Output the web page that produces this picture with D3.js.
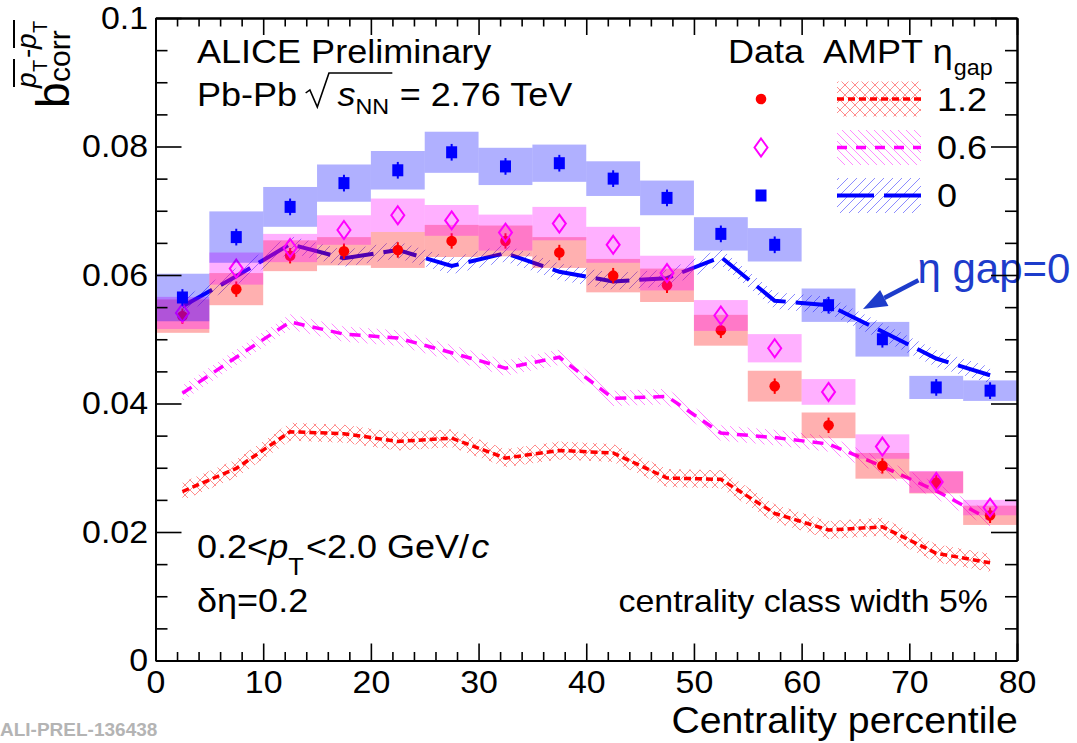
<!DOCTYPE html>
<html>
<head>
<meta charset="utf-8">
<script src="https://cdn.jsdelivr.net/npm/d3@7"></script>
<style>
  body { margin: 0; background: #fff; }
  svg { display: block; background: #fff; }
  text { font-family: "Liberation Sans", Arial, Helvetica, sans-serif; }
</style>
</head>
<body>
<svg id="chart" width="1077" height="743"></svg>
<script>
// ---- data: centrality bins (5% wide), b_corr values ----
const centrality = [2.5, 7.5, 12.5, 17.5, 22.5, 27.5, 32.5, 37.5, 42.5, 47.5, 52.5, 57.5, 62.5, 67.5, 72.5, 77.5];
const binHalfWidth = 2.5;

// Data, eta gap 1.2 (red circles)
const data12     = [0.0536, 0.0578, 0.0630, 0.0637, 0.0639, 0.0653, 0.0653, 0.0635, 0.0599, 0.0584, 0.0514, 0.0427, 0.0366, 0.0303, 0.0277, 0.0226];
const data12Sys  = [0.0026, 0.0025, 0.0024, 0.0022, 0.0028, 0.0025, 0.0024, 0.0024, 0.0026, 0.0026, 0.0024, 0.0024, 0.0020, 0.0020, 0.0017, 0.0015];
const data12Stat = [0.0012, 0.0012, 0.0012, 0.0012, 0.0012, 0.0012, 0.0012, 0.0012, 0.0012, 0.0012, 0.0012, 0.0012, 0.0012, 0.0012, 0.0012, 0.0012];
// Data, eta gap 0.6 (open diamonds)
const data06     = [0.0541, 0.0610, 0.0642, 0.0670, 0.0693, 0.0685, 0.0666, 0.0680, 0.0647, 0.0603, 0.0537, 0.0486, 0.0418, 0.0333, 0.0278, 0.0238];
const data06Sys  = [0.0025, 0.0025, 0.0022, 0.0023, 0.0026, 0.0024, 0.0028, 0.0026, 0.0028, 0.0027, 0.0024, 0.0022, 0.0020, 0.0019, 0.0017, 0.0012];
// Data, eta gap 0 (blue squares)
const data00     = [0.0565, 0.0659, 0.0706, 0.0743, 0.0763, 0.0791, 0.0769, 0.0774, 0.0750, 0.0720, 0.0664, 0.0647, 0.0553, 0.0500, 0.0425, 0.0420];
const data00Sys  = [0.0037, 0.0040, 0.0031, 0.0029, 0.0030, 0.0032, 0.0029, 0.0029, 0.0027, 0.0027, 0.0026, 0.0026, 0.0026, 0.0027, 0.0018, 0.0016];
const data00Stat = [0.0013, 0.0013, 0.0013, 0.0013, 0.0013, 0.0013, 0.0013, 0.0013, 0.0013, 0.0013, 0.0013, 0.0013, 0.0013, 0.0013, 0.0013, 0.0013];

// AMPT model curves with their uncertainty bands
const ampt12    = [0.0263, 0.0299, 0.0356, 0.0353, 0.0341, 0.0346, 0.0315, 0.0327, 0.0323, 0.0284, 0.0282, 0.0229, 0.0203, 0.0208, 0.0167, 0.0152];
const ampt12Err = [0.0014, 0.0014, 0.0014, 0.0014, 0.0014, 0.0014, 0.0014, 0.0014, 0.0014, 0.0014, 0.0014, 0.0014, 0.0014, 0.0014, 0.0014, 0.0014];
const ampt06    = [0.0416, 0.0472, 0.0527, 0.0508, 0.0502, 0.0479, 0.0455, 0.0472, 0.0408, 0.0411, 0.0354, 0.0347, 0.0337, 0.0302, 0.0264, 0.0219];
const ampt06Err = [0.0012, 0.0012, 0.0012, 0.0012, 0.0012, 0.0012, 0.0012, 0.0012, 0.0012, 0.0012, 0.0012, 0.0012, 0.0012, 0.0012, 0.0012, 0.0012];
const ampt00    = [0.0551, 0.0598, 0.0648, 0.0626, 0.0639, 0.0614, 0.0634, 0.0605, 0.0590, 0.0595, 0.0628, 0.0560, 0.0553, 0.0512, 0.0470, 0.0444];
const ampt00Err = [0.0013, 0.0013, 0.0013, 0.0013, 0.0013, 0.0013, 0.0013, 0.0013, 0.0013, 0.0013, 0.0013, 0.0013, 0.0013, 0.0013, 0.0013, 0.0013];

// axis ticks
const xMajorTicks = [0, 10, 20, 30, 40, 50, 60, 70, 80];
const xMinorTicks = [2, 4, 6, 8, 12, 14, 16, 18, 22, 24, 26, 28, 32, 34, 36, 38, 42, 44, 46, 48, 52, 54, 56, 58, 62, 64, 66, 68, 72, 74, 76, 78];
const yMajorTicks = [0, 0.02, 0.04, 0.06, 0.08, 0.1];
const yTickLabels = ["0", "0.02", "0.04", "0.06", "0.08", "0.1"];
const yMinorTicks = [0.005, 0.01, 0.015, 0.025, 0.03, 0.035, 0.045, 0.05, 0.055, 0.065, 0.07, 0.075, 0.085, 0.09, 0.095];

// annotation pointing at the eta gap = 0 model curve (data units)
const noteText = "η gap=0";
const noteAnchor = [70.75, 0.0588];
const arrowTail = [70.85, 0.0592];
const arrowTip = [65.7, 0.0547];

// ---- layout ----
const svg = d3.select("#chart");
const x = d3.scaleLinear().domain([0, 80]).range([155.5, 1017]);
const y = d3.scaleLinear().domain([0, 0.1]).range([660.5, 18]);
const SX = 1.06; // horizontal stretch of the lettering

const defs = svg.append("defs");
function hatch(id, size, d, color, op, w) {
  const p = defs.append("pattern").attr("id", id).attr("patternUnits", "userSpaceOnUse")
    .attr("width", size).attr("height", size);
  p.append("path").attr("d", d).attr("stroke", color).attr("stroke-opacity", op)
    .attr("stroke-width", w).attr("fill", "none");
}
hatch("hatchRed", 10, "M0,0 L10,10 M-1,9 L1,11 M9,-1 L11,1 M0,10 L10,0 M-1,1 L1,-1 M9,11 L11,9", "#ff0000", 0.5, 0.9);
hatch("hatchMag", 8, "M0,0 L8,8 M-2,6 L2,10 M6,-2 L10,2", "#ff00ff", 0.5, 0.9);
hatch("hatchBlue", 9, "M0,9 L9,0 M-2,2 L2,-2 M7,11 L11,7", "#8c8cff", 1, 1);

// rich text: sequence of pieces laid out left to right
function richText(parent, x0, y0, pieces, opts = {}) {
  const sx = opts.sx ?? SX;
  const g = parent.append("g");
  let cx = 0;
  const pos = [];
  pieces.forEach(p => {
    cx += p.gap || 0;
    const t = g.append("text").attr("x", cx).attr("y", p.dy || 0)
      .attr("font-size", p.size).attr("fill", p.fill || opts.fill || "#000").text(p.t);
    if (p.italic) t.attr("font-style", "italic");
    if (p.family || opts.family) t.attr("font-family", p.family || opts.family);
    const w = t.node().getComputedTextLength();
    pos.push({ x0: cx, x1: cx + w });
    cx += w;
  });
  const tx = opts.anchor === "end" ? x0 - cx * sx : x0;
  g.attr("transform", `translate(${tx},${y0}) scale(${sx},1)`);
  return { g, pos, width: cx };
}

// ---- AMPT bands and curves ----
function amptCurve(vals, errs, pattern, color, dash, width) {
  const pts = centrality.map((c, i) => ({ c, v: vals[i], e: errs[i] }));
  svg.append("path").datum(pts)
    .attr("d", d3.area().x(d => x(d.c)).y0(d => y(d.v - d.e)).y1(d => y(d.v + d.e)))
    .attr("fill", `url(#${pattern})`);
  svg.append("path").datum(pts)
    .attr("d", d3.line().x(d => x(d.c)).y(d => y(d.v)))
    .attr("fill", "none").attr("stroke", color).attr("stroke-width", width)
    .attr("stroke-dasharray", dash);
}
amptCurve(ampt12, ampt12Err, "hatchRed", "#ff0000", "7,4", 3.5);
amptCurve(ampt06, ampt06Err, "hatchMag", "#ff00ff", "11,8", 3.5);
amptCurve(ampt00, ampt00Err, "hatchBlue", "#0000ff", "34,10", 4);

// ---- data: systematic boxes, statistical bars, markers ----
const diamondPath = "M0,-9 L6.5,0 L0,9 L-6.5,0 Z";
function dataSeries(vals, sys, stat, color, marker) {
  const pts = centrality.map((c, i) => ({ c, v: vals[i], s: sys[i], e: stat ? stat[i] : 0 }));
  svg.append("g").selectAll("rect").data(pts).join("rect")
    .attr("x", d => x(d.c - binHalfWidth))
    .attr("width", d => x(d.c + binHalfWidth) - x(d.c - binHalfWidth))
    .attr("y", d => y(d.v + d.s))
    .attr("height", d => y(d.v - d.s) - y(d.v + d.s))
    .attr("fill", color).attr("fill-opacity", 0.31);
  if (stat) {
    svg.append("g").selectAll("line").data(pts).join("line")
      .attr("x1", d => x(d.c)).attr("x2", d => x(d.c))
      .attr("y1", d => y(d.v - d.e)).attr("y2", d => y(d.v + d.e))
      .attr("stroke", color).attr("stroke-width", 2);
  }
  const g = svg.append("g");
  if (marker === "circle") {
    g.selectAll("circle").data(pts).join("circle")
      .attr("cx", d => x(d.c)).attr("cy", d => y(d.v)).attr("r", 5.3).attr("fill", color);
  } else if (marker === "diamond") {
    g.selectAll("path").data(pts).join("path")
      .attr("transform", d => `translate(${x(d.c)},${y(d.v)})`)
      .attr("d", diamondPath).attr("fill", "none").attr("stroke", color).attr("stroke-width", 2);
  } else {
    g.selectAll("rect").data(pts).join("rect")
      .attr("x", d => x(d.c) - 5.5).attr("y", d => y(d.v) - 6)
      .attr("width", 11).attr("height", 12).attr("fill", color);
  }
}
dataSeries(data12, data12Sys, data12Stat, "#ff0000", "circle");
dataSeries(data06, data06Sys, null, "#ff00ff", "diamond");
dataSeries(data00, data00Sys, data00Stat, "#0000ff", "square");

// ---- annotation ----
const noteBlue = "#1d3ccb";
richText(svg, x(noteAnchor[0]), y(noteAnchor[1]), [{ t: noteText, size: 42 }],
  { family: "Lato, 'Open Sans', sans-serif", fill: noteBlue, sx: 1.0 });
{
  const tx = x(arrowTail[0]), ty = y(arrowTail[1]);
  const hx = x(arrowTip[0]), hy = y(arrowTip[1]);
  const ang = Math.atan2(hy - ty, hx - tx);
  const len = 24, half = 9;
  const bx = hx - len * Math.cos(ang), by = hy - len * Math.sin(ang);
  svg.append("line").attr("x1", tx).attr("y1", ty).attr("x2", bx).attr("y2", by)
    .attr("stroke", noteBlue).attr("stroke-width", 4.5);
  svg.append("path").attr("d", `M${hx},${hy} L${bx - half * Math.sin(ang)},${by + half * Math.cos(ang)} L${bx + half * Math.sin(ang)},${by - half * Math.cos(ang)} Z`)
    .attr("fill", noteBlue);
}

// ---- axes (ROOT style: inward ticks on all four sides) ----
function styleAxis(g) {
  g.selectAll("path.domain").attr("stroke", "#000").attr("stroke-width", 2);
  g.selectAll(".tick line").attr("stroke", "#000").attr("stroke-width", 1.6);
  g.selectAll("text").attr("font-family", "'Liberation Sans', Arial, sans-serif")
    .attr("font-size", 32).attr("fill", "#000").attr("transform", `scale(${SX},1)`);
}
const xb = svg.append("g").attr("transform", `translate(0,${y(0)})`);
xb.append("g").call(d3.axisBottom(x).tickValues(xMinorTicks).tickSize(-8.5).tickSizeOuter(0).tickFormat("")).call(styleAxis);
xb.append("g").call(d3.axisBottom(x).tickValues(xMajorTicks).tickSize(-17).tickSizeOuter(0).tickPadding(10).tickFormat(d3.format("d"))).call(styleAxis);
const xt = svg.append("g").attr("transform", `translate(0,${y(0.1)})`);
xt.append("g").call(d3.axisTop(x).tickValues(xMinorTicks).tickSize(-8.5).tickSizeOuter(0).tickFormat("")).call(styleAxis);
xt.append("g").call(d3.axisTop(x).tickValues(xMajorTicks).tickSize(-17).tickSizeOuter(0).tickFormat("")).call(styleAxis);
const yl = svg.append("g").attr("transform", `translate(${x(0)},0)`);
yl.append("g").call(d3.axisLeft(y).tickValues(yMinorTicks).tickSize(-12).tickSizeOuter(0).tickFormat("")).call(styleAxis);
yl.append("g").call(d3.axisLeft(y).tickValues(yMajorTicks).tickSize(-26).tickSizeOuter(0).tickPadding(7)
  .tickFormat((d, i) => yTickLabels[i])).call(styleAxis);
const yr = svg.append("g").attr("transform", `translate(${x(80)},0)`);
yr.append("g").call(d3.axisRight(y).tickValues(yMinorTicks).tickSize(-12).tickSizeOuter(0).tickFormat("")).call(styleAxis);
yr.append("g").call(d3.axisRight(y).tickValues(yMajorTicks).tickSize(-26).tickSizeOuter(0).tickFormat("")).call(styleAxis);

// x-axis title
richText(svg, 1018, 733, [{ t: "Centrality percentile", size: 37 }], { anchor: "end" });

// y-axis title: b_corr with superscript (p̄T - p̄T), rotated
{
  const g = svg.append("g").attr("transform", "translate(69,108) rotate(-90)");
  g.append("text").attr("x", 0).attr("y", 0).attr("font-size", 46).text("b");
  g.append("text").attr("x", 26).attr("y", 1).attr("font-size", 30).text("corr");
  const sup = [
    { t: "p", x: 20, y: -33, size: 28, italic: true },
    { t: "T", x: 36, y: -22, size: 20 },
    { t: "-", x: 50, y: -33, size: 28 },
    { t: "p", x: 59, y: -33, size: 28, italic: true },
    { t: "T", x: 75, y: -22, size: 20 }
  ];
  sup.forEach(s => {
    const t = g.append("text").attr("x", s.x).attr("y", s.y).attr("font-size", s.size).text(s.t);
    if (s.italic) t.attr("font-style", "italic");
  });
  [[21, 49], [60, 88]].forEach(([a, b]) => g.append("line")
    .attr("x1", a).attr("x2", b).attr("y1", -55).attr("y2", -55)
    .attr("stroke", "#000").attr("stroke-width", 2));
}

// ---- text labels ----
richText(svg, 197, 63, [{ t: "ALICE Preliminary", size: 34 }]);
{
  const r = richText(svg, 197, 106, [
    { t: "Pb-Pb", size: 34 },
    { t: "s", size: 34, italic: true, gap: 38 },
    { t: "NN", size: 22, dy: 8 },
    { t: "= 2.76 TeV", size: 34, gap: 10 }
  ]);
  const r0 = r.pos[0].x1 + 8, rEnd = r.pos[2].x1 + 3;
  r.g.append("path")
    .attr("d", `M${r0},-13 L${r0 + 4},-16 L${r0 + 11},1 L${r0 + 22},-33 L${rEnd},-33`)
    .attr("fill", "none").attr("stroke", "#000").attr("stroke-width", 1.5);
}
richText(svg, 197, 558, [
  { t: "0.2<", size: 34 },
  { t: "p", size: 34, italic: true },
  { t: "T", size: 24, dy: 17 },
  { t: "<2.0 GeV/", size: 34, gap: 2 },
  { t: "c", size: 34, italic: true, gap: 2 }
]);
richText(svg, 197, 612, [{ t: "δη=0.2", size: 34 }]);
richText(svg, 988, 612, [{ t: "centrality class width 5%", size: 32 }], { anchor: "end" });

// ---- legend ----
richText(svg, 728, 63, [{ t: "Data", size: 34 }]);
richText(svg, 823, 63, [{ t: "AMPT", size: 34 }, { t: "η", size: 34, gap: 9 }, { t: "gap", size: 22, dy: 12, gap: 1 }]);
const legendRows = [
  { cy: 99, marker: "circle", color: "#ff0000", pattern: "hatchRed", dash: "7,4", w: 3.5, label: "1.2" },
  { cy: 147.5, marker: "diamond", color: "#ff00ff", pattern: "hatchMag", dash: "10,9", w: 3.5, label: "0.6" },
  { cy: 195.5, marker: "square", color: "#0000ff", pattern: "hatchBlue", dash: "37,10", w: 4, label: "0" }
];
legendRows.forEach(r => {
  if (r.marker === "circle") svg.append("circle").attr("cx", 761).attr("cy", r.cy).attr("r", 5.3).attr("fill", r.color);
  else if (r.marker === "diamond") svg.append("path").attr("transform", `translate(761,${r.cy})`).attr("d", diamondPath)
    .attr("fill", "none").attr("stroke", r.color).attr("stroke-width", 2);
  else svg.append("rect").attr("x", 755.5).attr("y", r.cy - 6).attr("width", 11).attr("height", 12).attr("fill", r.color);
  svg.append("rect").attr("x", 837).attr("y", r.cy - 17.5).attr("width", 84).attr("height", 35)
    .attr("fill", `url(#${r.pattern})`);
  svg.append("line").attr("x1", 837).attr("x2", 921).attr("y1", r.cy).attr("y2", r.cy)
    .attr("stroke", r.color).attr("stroke-width", r.w).attr("stroke-dasharray", r.dash);
  richText(svg, 937, r.cy + 11.5, [{ t: r.label, size: 34 }]);
});

// preliminary figure id
svg.append("text").attr("x", 0).attr("y", 736).attr("font-family", "'Liberation Mono', 'DejaVu Sans Mono', monospace")
  .attr("font-weight", "bold").attr("font-size", 19).attr("fill", "#b4b4b4").text("ALI-PREL-136438");
</script>
</body>
</html>
